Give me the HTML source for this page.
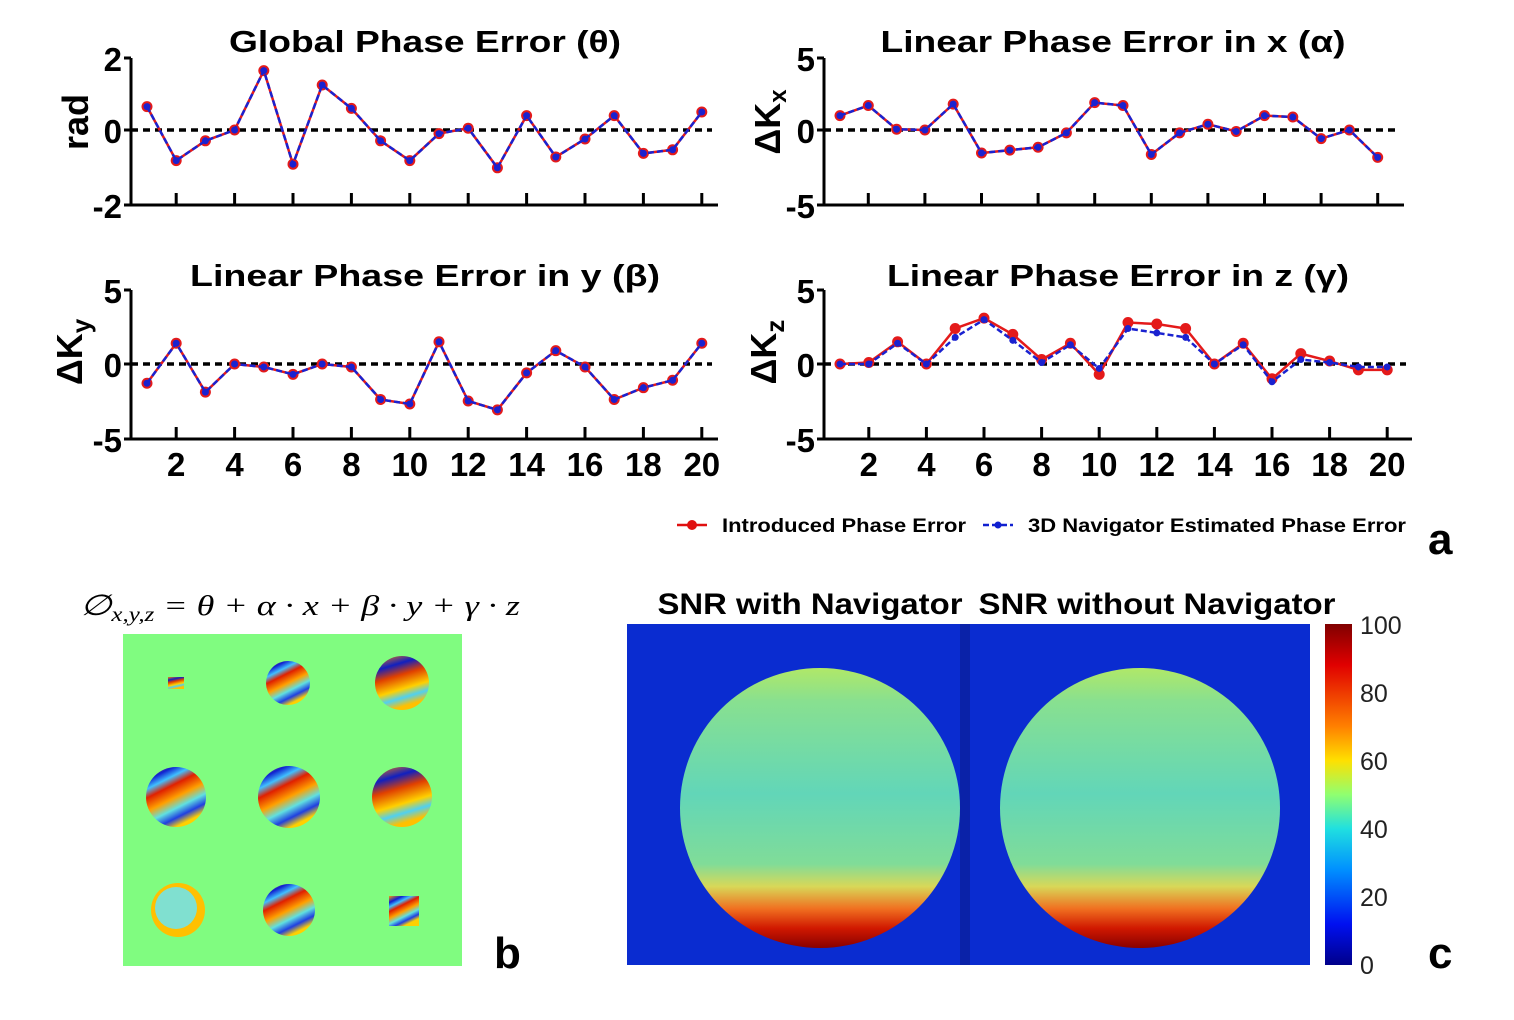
<!DOCTYPE html>
<html><head><meta charset="utf-8"><style>
html,body{margin:0;padding:0;background:#fff;}
svg{display:block;font-family:"Liberation Sans",sans-serif;}
</style></head><body>
<svg id="s" width="1514" height="1020" viewBox="0 0 1514 1020" xmlns="http://www.w3.org/2000/svg">
<defs>
<linearGradient id="jet" x1="0" y1="0" x2="0" y2="1">
<stop offset="0" stop-color="#800000"/><stop offset="0.12" stop-color="#e00000"/><stop offset="0.3" stop-color="#ff8000"/><stop offset="0.4" stop-color="#ffe000"/><stop offset="0.5" stop-color="#90ff70"/><stop offset="0.6" stop-color="#20e0e0"/><stop offset="0.72" stop-color="#0090ff"/><stop offset="0.88" stop-color="#0010f0"/><stop offset="1" stop-color="#00008a"/>
</linearGradient>
<linearGradient id="snr" x1="0" y1="0" x2="0" y2="1">
<stop offset="0" stop-color="#b0e868"/><stop offset="0.12" stop-color="#88e090"/><stop offset="0.45" stop-color="#62d6b8"/><stop offset="0.7" stop-color="#80dc98"/><stop offset="0.78" stop-color="#d8d858"/><stop offset="0.86" stop-color="#f07020"/><stop offset="0.93" stop-color="#d01800"/><stop offset="1" stop-color="#880000"/>
</linearGradient>
<linearGradient id="ph" x1="0" y1="0" x2="0.5" y2="1">
<stop offset="0" stop-color="#ff9a00"/><stop offset="0.18" stop-color="#1020d0"/><stop offset="0.3" stop-color="#40c0ff"/><stop offset="0.42" stop-color="#e02000"/><stop offset="0.6" stop-color="#ffa000"/><stop offset="0.75" stop-color="#60e0e0"/><stop offset="0.88" stop-color="#2040e0"/><stop offset="1" stop-color="#ffd000"/>
</linearGradient>
<linearGradient id="ph2" x1="0" y1="0" x2="0.3" y2="1">
<stop offset="0" stop-color="#ff8000"/><stop offset="0.25" stop-color="#1020c0"/><stop offset="0.45" stop-color="#e04000"/><stop offset="0.7" stop-color="#ffd000"/><stop offset="0.85" stop-color="#50d0f0"/><stop offset="1" stop-color="#ffc000"/>
</linearGradient>
</defs>
<g id="charts"></g>
<line x1="677" y1="525" x2="707" y2="525" stroke="#e01010" stroke-width="2.5"/><circle cx="692" cy="525" r="5" fill="#e01010"/>
<text x="722" y="532" font-size="19" font-weight="bold" textLength="244" lengthAdjust="spacingAndGlyphs">Introduced Phase Error</text>
<line x1="983" y1="525" x2="1013" y2="525" stroke="#1020d0" stroke-width="2.5" stroke-dasharray="6,3"/><circle cx="998" cy="525" r="3.5" fill="#1020d0"/>
<text x="1028" y="532" font-size="19" font-weight="bold" textLength="378" lengthAdjust="spacingAndGlyphs">3D Navigator Estimated Phase Error</text>
<text x="1428" y="554" font-size="44" font-weight="bold">a</text>
<text x="494" y="968" font-size="44" font-weight="bold">b</text>
<text x="1428" y="968" font-size="44" font-weight="bold">c</text>
<text x="80" y="615" font-family="'Liberation Serif',serif" font-style="italic" font-size="29" textLength="440" lengthAdjust="spacingAndGlyphs">∅<tspan font-size="20" dy="6">x,y,z</tspan><tspan dy="-6"> = θ + α · x + β · y + γ · z</tspan></text>
<rect x="123" y="634" width="339" height="332" fill="#80fc80"/>
<rect x="168" y="677" width="16" height="12" fill="url(#ph2)"/>
<circle cx="288" cy="683" r="22" fill="url(#ph)"/>
<circle cx="402" cy="683" r="27" fill="url(#ph2)"/>
<circle cx="176" cy="797" r="30" fill="url(#ph)"/>
<circle cx="289" cy="797" r="31" fill="url(#ph)"/>
<circle cx="402" cy="797" r="30" fill="url(#ph2)"/>
<circle cx="178" cy="910" r="27" fill="#ffc000"/><circle cx="176" cy="908" r="21" fill="#80e0d0"/>
<circle cx="289" cy="910" r="26" fill="url(#ph)"/>
<rect x="389" y="896" width="30" height="30" fill="url(#ph)"/>
<text x="810" y="614" text-anchor="middle" font-size="30" font-weight="bold" textLength="305" lengthAdjust="spacingAndGlyphs">SNR with Navigator</text>
<text x="1157" y="614" text-anchor="middle" font-size="30" font-weight="bold" textLength="357" lengthAdjust="spacingAndGlyphs">SNR without Navigator</text>
<rect x="627" y="624" width="683" height="341" fill="#0a2cd0"/>
<rect x="960" y="624" width="10" height="341" fill="#0a22a8"/>
<circle cx="820" cy="808" r="140" fill="url(#snr)"/>
<circle cx="1140" cy="808" r="140" fill="url(#snr)"/>
<rect x="1325" y="624" width="27" height="341" fill="url(#jet)"/>
<g font-size="25" fill="#222">
<text x="1360" y="634">100</text><text x="1360" y="702">80</text><text x="1360" y="770">60</text><text x="1360" y="838">40</text><text x="1360" y="906">20</text><text x="1360" y="974">0</text>
</g>
</svg>
<script>
var NS="http://www.w3.org/2000/svg",g=document.getElementById("charts");
function el(t,a,txt){var e=document.createElementNS(NS,t);for(var k in a)e.setAttribute(k,a[k]);if(txt!=null)e.textContent=txt;g.appendChild(e);return e;}
function chart(o){
 var ym=function(v){return o.y0-(v/o.ymax)*(o.y0-o.ytop);};
 var xm=function(i){return o.x1+(i-1)*o.step;};
 el("line",{x1:o.ax,y1:o.ytop,x2:o.ax,y2:o.ybot,stroke:"#000","stroke-width":3});
 el("line",{x1:o.ax,y1:o.ybot,x2:o.axEnd,y2:o.ybot,stroke:"#000","stroke-width":3});
 [o.ytop,o.y0,o.ybot].forEach(function(y){el("line",{x1:o.ax-7,y1:y,x2:o.ax,y2:y,stroke:"#000","stroke-width":3});});
 for(var i=2;i<=20;i+=2){el("line",{x1:xm(i),y1:o.ybot,x2:xm(i),y2:o.ybot-12,stroke:"#000","stroke-width":3});
  if(o.lab)el("text",{x:xm(i),y:o.ybot+37,"text-anchor":"middle","font-size":33,"font-weight":"bold"},String(i));}
 el("line",{x1:o.ax,y1:o.y0,x2:o.axEnd-6,y2:o.y0,stroke:"#000","stroke-width":3.5,"stroke-dasharray":"7,5"});
 var yl=[o.ymax,0,-o.ymax];[o.ytop,o.y0,o.ybot].forEach(function(y,k){el("text",{x:o.ax-9,y:y+13,"text-anchor":"end","font-size":33,"font-weight":"bold"},String(yl[k]));});
 el("text",{x:o.tx,y:o.ty,"text-anchor":"middle","font-size":31,"font-weight":"bold",textLength:o.tw,lengthAdjust:"spacingAndGlyphs"},o.title);
 var t=el("text",{transform:"translate("+o.lx+","+o.ly+") rotate(-90)","text-anchor":"middle","font-size":36,"font-weight":"bold"},null);
 t.innerHTML=o.ylab;
 function poly(d,c,dash,r){var p=d.map(function(v,i){return xm(i+1)+","+ym(v);}).join(" ");
  var a={points:p,fill:"none",stroke:c,"stroke-width":2.5};if(dash)a["stroke-dasharray"]=dash;el("polyline",a);
  d.forEach(function(v,i){el("circle",{cx:xm(i+1),cy:ym(v),r:r,fill:c});});}
 poly(o.red,"#e41a1a",null,5.5);poly(o.blue||o.red,"#1a22d0","6,3",3.5);
}
chart({ax:131,axEnd:718,ytop:58,y0:130,ybot:205,ymax:2,x1:147,step:29.2,lab:false,title:"Global Phase Error (θ)",tx:425,ty:52,tw:392,lx:88,ly:122,ylab:"rad",
 red:[0.65,-0.85,-0.3,0,1.65,-0.95,1.25,0.6,-0.3,-0.85,-0.1,0.05,-1.05,0.4,-0.75,-0.25,0.4,-0.65,-0.55,0.5]});
chart({ax:824,axEnd:1404,ytop:58,y0:130,ybot:205,ymax:5,x1:840,step:28.3,lab:false,title:"Linear Phase Error in x (α)",tx:1113,ty:52,tw:465,lx:780,ly:122,ylab:"ΔK<tspan font-size='24' dy='6'>x</tspan>",
 red:[1.0,1.7,0.05,0,1.8,-1.6,-1.4,-1.2,-0.2,1.9,1.7,-1.7,-0.2,0.4,-0.1,1.0,0.9,-0.6,0,-1.9]});
chart({ax:131,axEnd:718,ytop:290,y0:364,ybot:439,ymax:5,x1:147,step:29.2,lab:true,title:"Linear Phase Error in y (β)",tx:425,ty:286,tw:470,lx:82,ly:352,ylab:"ΔK<tspan font-size='26' dy='8'>y</tspan>",
 red:[-1.3,1.4,-1.9,0,-0.2,-0.7,0,-0.2,-2.4,-2.7,1.5,-2.5,-3.1,-0.6,0.9,-0.2,-2.4,-1.6,-1.1,1.4]});
chart({ax:824,axEnd:1412,ytop:290,y0:364,ybot:439,ymax:5,x1:840,step:28.8,lab:true,title:"Linear Phase Error in z (γ)",tx:1118,ty:286,tw:462,lx:776,ly:352,ylab:"ΔK<tspan font-size='26' dy='8'>z</tspan>",
 red:[0,0.1,1.5,0,2.4,3.1,2.0,0.3,1.4,-0.7,2.8,2.7,2.4,0,1.4,-1.0,0.7,0.2,-0.4,-0.4],
 blue:[0,0,1.4,0,1.8,3.0,1.6,0.1,1.3,-0.3,2.4,2.1,1.8,0,1.3,-1.2,0.3,0.1,-0.2,-0.2]});
</script>
</body></html>
